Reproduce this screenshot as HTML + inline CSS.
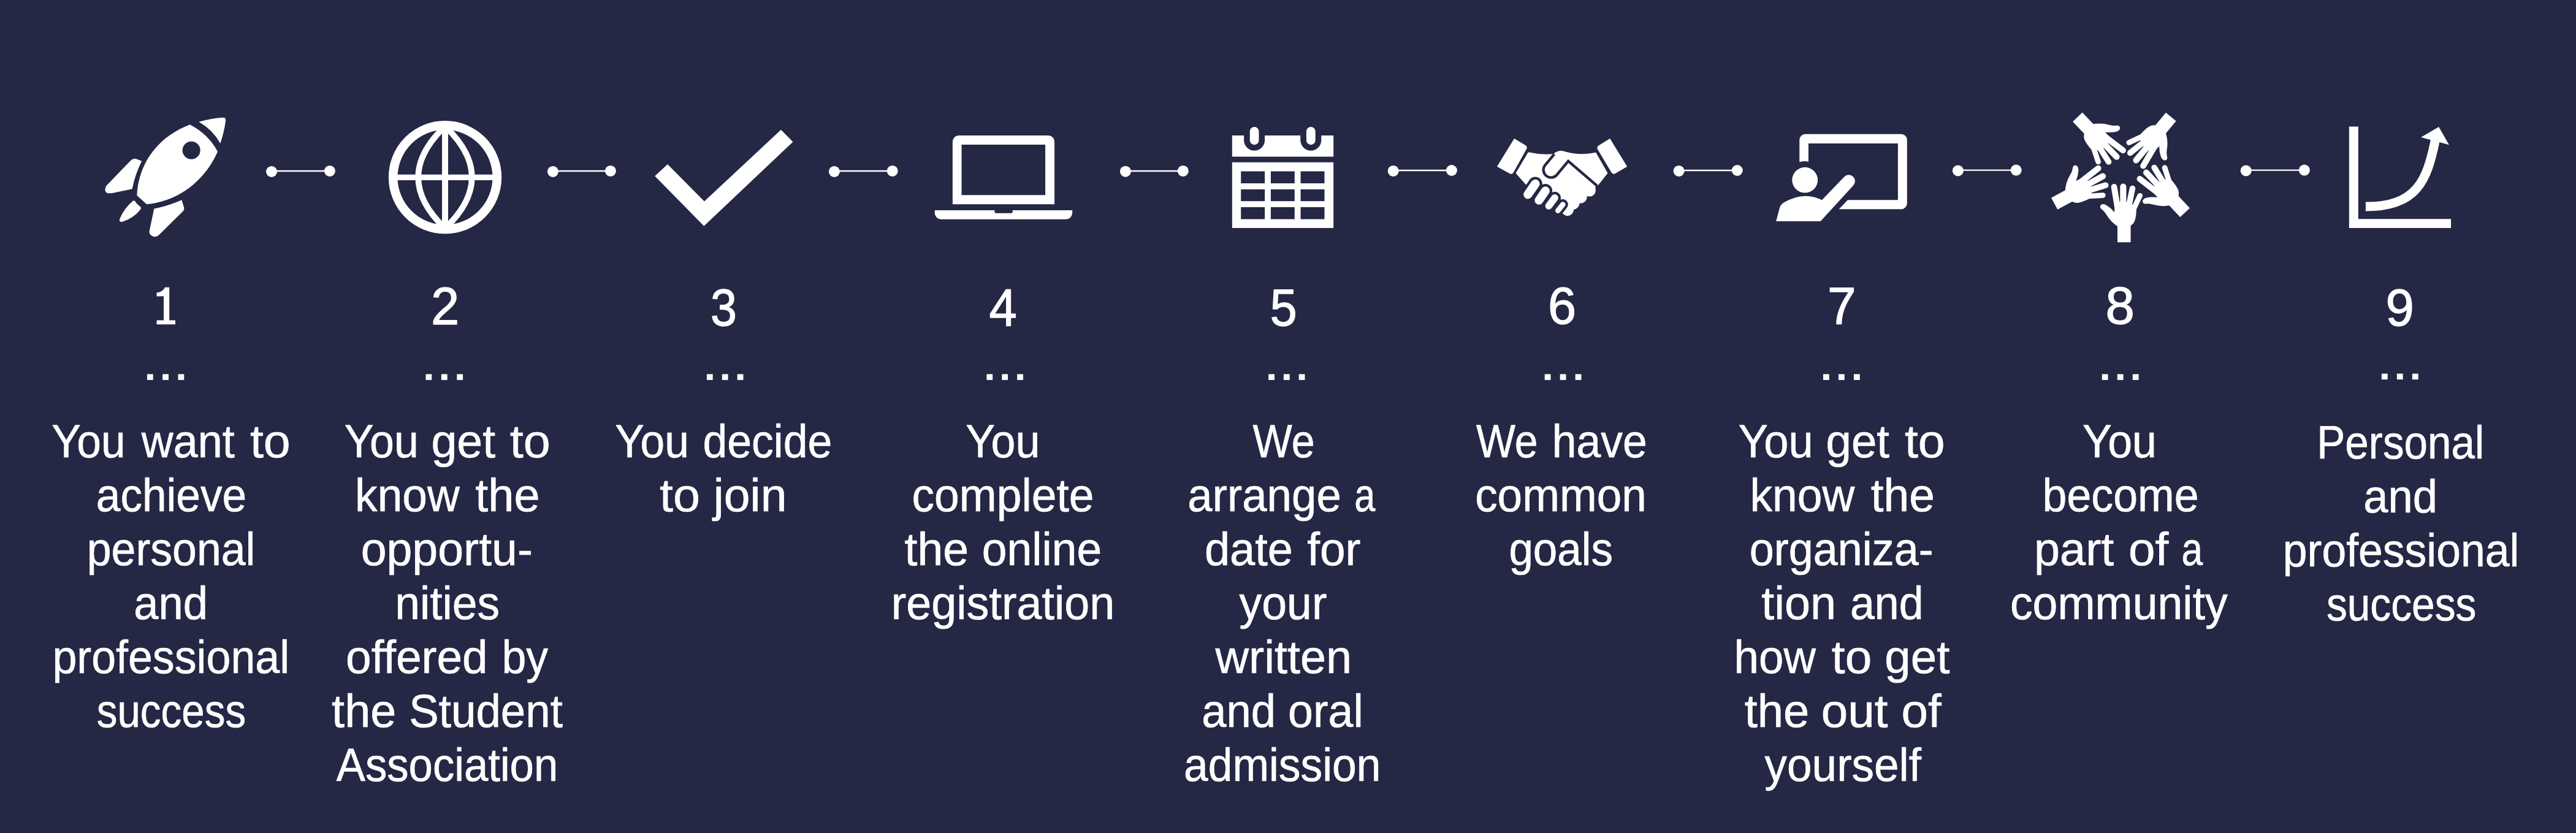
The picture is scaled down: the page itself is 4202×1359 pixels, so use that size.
<!DOCTYPE html>
<html><head><meta charset="utf-8"><title>Journey</title>
<style>
html,body{margin:0;padding:0;background:#242844;}
body{width:4202px;height:1359px;overflow:hidden;}
svg.root{position:absolute;left:0;top:0;display:block;}
text{font-family:"Liberation Sans",sans-serif;fill:#fff;}
</style></head><body>
<svg class="root" width="4202" height="1359" viewBox="0 0 4202 1359" fill="#fff">
<rect width="4202" height="1359" fill="#242844"/>
<g id="connectors">
<line x1="443.0" y1="279.0" x2="537.9" y2="279.0" stroke="#fff" stroke-width="2.45"/><circle cx="443.0" cy="280.0" r="9"/><circle cx="537.9" cy="279.0" r="9"/>
<line x1="901.9" y1="278.9" x2="995.9" y2="278.9" stroke="#fff" stroke-width="2.45"/><circle cx="901.9" cy="279.9" r="9"/><circle cx="995.9" cy="278.9" r="9"/>
<line x1="1360.9" y1="278.9" x2="1455.7" y2="278.9" stroke="#fff" stroke-width="2.45"/><circle cx="1360.9" cy="279.9" r="9"/><circle cx="1455.7" cy="278.9" r="9"/>
<line x1="1835.9" y1="278.9" x2="1929.8" y2="278.9" stroke="#fff" stroke-width="2.45"/><circle cx="1835.9" cy="279.7" r="9"/><circle cx="1929.8" cy="278.9" r="9"/>
<line x1="2272.7" y1="278.0" x2="2367.9" y2="278.0" stroke="#fff" stroke-width="2.45"/><circle cx="2272.7" cy="278.9" r="9"/><circle cx="2367.9" cy="278.0" r="9"/>
<line x1="2738.6" y1="278.0" x2="2833.8" y2="278.0" stroke="#fff" stroke-width="2.45"/><circle cx="2738.6" cy="278.9" r="9"/><circle cx="2833.8" cy="278.0" r="9"/>
<line x1="3193.9" y1="277.6" x2="3288.7" y2="277.6" stroke="#fff" stroke-width="2.45"/><circle cx="3193.9" cy="278.4" r="9"/><circle cx="3288.7" cy="277.6" r="9"/>
<line x1="3663.7" y1="277.6" x2="3758.9" y2="277.6" stroke="#fff" stroke-width="2.45"/><circle cx="3663.7" cy="278.4" r="9"/><circle cx="3758.9" cy="277.6" r="9"/>
</g>
<g id="icons">
<svg x="150" y="170" width="250" height="240" viewBox="0 0 868 833" overflow="visible">
<path d="M605,100 Q680,78 745,75 Q760,76 757,95 Q748,160 727,222 Q683,144 605,100 Z"/>
<path d="M555,115 Q660,170 712,268 C660,390 530,545 310,567 L255,517 C258,400 320,205 555,115 Z"/>
<circle cx="563" cy="261" r="50.5" fill="#242844"/>
<path d="M282,322 Q245,395 228,480 L116,503 Q60,512 80,463 L218,320 Q235,303 260,313 Z"/>
<path d="M352,592 Q435,575 508,542 L520,580 Q526,595 515,607 L378,742 Q355,760 332,740 Q322,730 326,715 Z"/>
<path d="M230,549 Q238,542 245,551 Q255,568 272,579 Q282,586 274,597 Q240,642 176,665 Q151,671 157,650 Q183,588 230,549 Z"/>
</svg>
<svg x="600" y="170" width="250" height="240" viewBox="0 0 868 833" overflow="visible">
<g fill="none" stroke="#fff">
<circle cx="437.5" cy="414" r="294.5" stroke-width="51"/>
<path d="M437.5,130 V700" stroke-width="34.5"/><path d="M150,414.5 H725" stroke-width="32"/>
<path d="M437.5,124.7 Q133.5,414 437.5,703.3 M437.5,124.7 Q741.5,414 437.5,703.3" stroke-width="34"/>
</g>
</svg>
<svg x="1040" y="170" width="280" height="240" viewBox="0 0 972 833" overflow="visible"><polygon points="98,407 170,340 378,550 812,145 880,213 376,690"/></svg>
<svg x="1500" y="170" width="280" height="240" viewBox="0 0 972 833" overflow="visible">
<path fill-rule="evenodd" d="M187,567 V212 a35,35 0 0 1 35,-35 H729 a35,35 0 0 1 35,35 V567 Z M238,229 H712 V515 H238 Z"/>
<path d="M86,600.5 H425 V607 a10,10 0 0 0 10,10 H517 a10,10 0 0 0 10,-10 V600.5 H865 V616.5 a35,35 0 0 1 -35,35 H121 a35,35 0 0 1 -35,-35 Z"/>
</svg>
<svg x="1960" y="170" width="280" height="240" viewBox="0 0 972 833" overflow="visible"><rect x="173" y="177" width="574" height="120"/>
<path fill="#242844" d="M240,170 V204 a59,59 0 0 0 118,0 V170 Z"/>
<rect x="273.5" y="128.5" width="51" height="101.5" rx="25.5"/>
<path fill="#242844" d="M560,170 V204 a59,59 0 0 0 118,0 V170 Z"/>
<rect x="593.5" y="128.5" width="51" height="101.5" rx="25.5"/>
<rect x="173" y="329" width="574" height="372"/>
<rect fill="#242844" x="223" y="380" width="135" height="68"/>
<rect fill="#242844" x="223" y="482" width="135" height="67"/>
<rect fill="#242844" x="223" y="583" width="135" height="68"/>
<rect fill="#242844" x="392" y="380" width="135" height="68"/>
<rect fill="#242844" x="392" y="482" width="135" height="67"/>
<rect fill="#242844" x="392" y="583" width="135" height="68"/>
<rect fill="#242844" x="561" y="380" width="135" height="68"/>
<rect fill="#242844" x="561" y="482" width="135" height="67"/>
<rect fill="#242844" x="561" y="583" width="135" height="68"/>
</svg>
<svg x="2410" y="190" width="280" height="200" viewBox="0 0 1166 833" overflow="visible">
<path d="M250,150 L325,195 Q342,206 333,222 L245,380 Q236,396 220,388 L133,340 Z"/>
<path d="M900,150 L1017,340 L935,388 Q920,396 911,381 L817,225 Q808,209 823,198 Z"/>
<path d="M345,243 Q430,262 515,255 Q545,228 580,234 Q690,270 805,245 L885,385 L820,468 L800,480 Q812,520 780,540 Q760,548 745,540 Q745,575 715,588 Q705,590 695,588 Q690,625 655,632 Q650,670 612,677 Q595,675 580,660 L328,462 L260,385 Z"/>
<path fill="none" stroke="#242844" stroke-width="18" stroke-linejoin="miter" d="M522,256 L460,331 A50,50 0 0 0 540,396 L617,303 L814,472"/>
<g stroke="#242844" stroke-width="15">
<path d="M393,458 L343,530" stroke="#242844" stroke-width="95" stroke-linecap="round"/>
<path d="M462,505 L418,570" stroke="#242844" stroke-width="93" stroke-linecap="round"/>
<path d="M525,553 L485,608" stroke="#242844" stroke-width="83" stroke-linecap="round"/>
<path d="M580,598 L547,640" stroke="#242844" stroke-width="71" stroke-linecap="round"/>
</g>
<g stroke="#fff" stroke-linecap="round">
<path d="M393,458 L343,530" stroke-width="60"/>
<path d="M462,505 L418,570" stroke-width="58"/>
<path d="M525,553 L485,608" stroke-width="48"/>
<path d="M580,598 L547,640" stroke-width="36"/>
</g>
</svg>
<svg x="2870" y="190" width="280" height="200" viewBox="0 0 1166 833" overflow="visible">
<path d="M272,310 V160 a40,40 0 0 1 40,-40 H963 a40,40 0 0 1 40,40 V590 a40,40 0 0 1 -40,40 H540 L600,567 H941 V183 H333 V307 Q302,300 272,310 Z"/>
<circle cx="309" cy="432" r="87"/>
<path d="M113,712 L138,618 Q145,598 165,585 Q300,505 425,567 L576,410 A42,42 0 0 1 637,470 L415,712 Z"/>
</svg>
<svg x="3320" y="170" width="280" height="240" viewBox="0 0 972 833" overflow="visible"><g transform="translate(502.7,781.9) rotate(0)">
<rect x="-37.5" y="-97" width="75" height="97"/>
<path d="M-37.5,-90 Q-75,-115 -97.5,-152.5 Q-112.5,-177.5 -127.5,-187.5 Q-142.5,-200 -130,-212.5 Q-117.5,-220 -100,-210 Q-75,-195 -55,-170 L-50,-228 L35,-228 L45,-215 L70,-195 Q70,-150 60,-120 Q52.5,-102.5 37.5,-94 Z"/>
<g stroke="#fff" stroke-linecap="round" fill="none">
<path d="M-56.5,-314 L-36,-190" stroke-width="34"/>
<path d="M-5,-315 L-5,-190" stroke-width="35"/>
<path d="M47.5,-305 L24,-190" stroke-width="33"/>
<path d="M90,-264 L55,-190" stroke-width="30"/>
</g>
</g>
<g transform="translate(108.2,563.5) rotate(61.3)">
<rect x="-37.5" y="-97" width="75" height="97"/>
<path d="M-37.5,-90 Q-75,-115 -97.5,-152.5 Q-112.5,-177.5 -127.5,-187.5 Q-142.5,-200 -130,-212.5 Q-117.5,-220 -100,-210 Q-75,-195 -55,-170 L-50,-228 L35,-228 L45,-215 L70,-195 Q70,-150 60,-120 Q52.5,-102.5 37.5,-94 Z"/>
<g stroke="#fff" stroke-linecap="round" fill="none">
<path d="M-56.5,-314 L-36,-190" stroke-width="34"/>
<path d="M-5,-315 L-5,-190" stroke-width="35"/>
<path d="M47.5,-305 L24,-190" stroke-width="33"/>
<path d="M90,-264 L55,-190" stroke-width="30"/>
</g>
</g>
<g transform="translate(239.3,72.9) rotate(136.4)">
<rect x="-37.5" y="-97" width="75" height="97"/>
<path d="M-37.5,-90 Q-75,-115 -97.5,-152.5 Q-112.5,-177.5 -127.5,-187.5 Q-142.5,-200 -130,-212.5 Q-117.5,-220 -100,-210 Q-75,-195 -55,-170 L-50,-228 L35,-228 L45,-215 L70,-195 Q70,-150 60,-120 Q52.5,-102.5 37.5,-94 Z"/>
<g stroke="#fff" stroke-linecap="round" fill="none">
<path d="M-56.5,-314 L-36,-190" stroke-width="34"/>
<path d="M-5,-315 L-5,-190" stroke-width="35"/>
<path d="M47.5,-305 L24,-190" stroke-width="33"/>
<path d="M90,-264 L55,-190" stroke-width="30"/>
</g>
</g>
<g transform="translate(768.3,71.6) rotate(-140.3)">
<rect x="-37.5" y="-97" width="75" height="97"/>
<path d="M-37.5,-90 Q-75,-115 -97.5,-152.5 Q-112.5,-177.5 -127.5,-187.5 Q-142.5,-200 -130,-212.5 Q-117.5,-220 -100,-210 Q-75,-195 -55,-170 L-50,-228 L35,-228 L45,-215 L70,-195 Q70,-150 60,-120 Q52.5,-102.5 37.5,-94 Z"/>
<g stroke="#fff" stroke-linecap="round" fill="none">
<path d="M-56.5,-314 L-36,-190" stroke-width="34"/>
<path d="M-5,-315 L-5,-190" stroke-width="35"/>
<path d="M47.5,-305 L24,-190" stroke-width="33"/>
<path d="M90,-264 L55,-190" stroke-width="30"/>
</g>
</g>
<g transform="translate(847.5,614.0) rotate(-43.1)">
<rect x="-37.5" y="-97" width="75" height="97"/>
<path d="M-37.5,-90 Q-75,-115 -97.5,-152.5 Q-112.5,-177.5 -127.5,-187.5 Q-142.5,-200 -130,-212.5 Q-117.5,-220 -100,-210 Q-75,-195 -55,-170 L-50,-228 L35,-228 L45,-215 L70,-195 Q70,-150 60,-120 Q52.5,-102.5 37.5,-94 Z"/>
<g stroke="#fff" stroke-linecap="round" fill="none">
<path d="M-56.5,-314 L-36,-190" stroke-width="34"/>
<path d="M-5,-315 L-5,-190" stroke-width="35"/>
<path d="M47.5,-305 L24,-190" stroke-width="33"/>
<path d="M90,-264 L55,-190" stroke-width="30"/>
</g>
</g>
</svg>
<svg x="3780" y="170" width="280" height="240" viewBox="0 0 972 833" overflow="visible">
<path d="M180,127 H232 V650 H757 V701 H180 Z"/>
<path fill="none" stroke="#fff" stroke-width="52" d="M274,580 C564,580 621,433 668,203"/>
<polygon points="688,128 746,230 587,187"/>
</svg>
</g>
<g id="digits" font-size="84.0" stroke="#fff" stroke-width="1.3" stroke-linejoin="round">
<path stroke="none" d="M276.2,468.7 L269,468.7 Q266,476 255.6,477.4 L255.6,483.6 L267,483.2 L267,522.5 L255.6,522.5 L255.6,529.2 L286,529.2 L286,522.5 L276.2,522.5 Z"/>
<text transform="translate(703.04,528.5) scale(0.9884,1.0204)">2</text>
<text transform="translate(1159.12,531.3) scale(0.9195,1.0204)">3</text>
<text transform="translate(1613.45,531.3) scale(0.9688,1.0204)">4</text>
<text transform="translate(2071.65,531.3) scale(0.9408,1.0204)">5</text>
<text transform="translate(2524.89,527.6) scale(0.9867,1.0204)">6</text>
<text transform="translate(2981.05,527.5) scale(0.9984,1.0204)">7</text>
<text transform="translate(3434.41,528.0) scale(1.0144,1.0204)">8</text>
<text transform="translate(3891.43,531.1) scale(0.9924,1.0204)">9</text>
</g>
<g id="dots">
<rect x="239.9" y="610.4" width="9.8" height="9.5"/><rect x="265.2" y="610.4" width="9.8" height="9.5"/><rect x="290.5" y="610.4" width="9.8" height="9.5"/>
<rect x="694.5" y="610.4" width="9.8" height="9.5"/><rect x="719.9" y="610.4" width="9.8" height="9.5"/><rect x="745.3" y="610.4" width="9.8" height="9.5"/>
<rect x="1152.9" y="610.4" width="9.8" height="9.5"/><rect x="1177.8" y="610.4" width="9.8" height="9.5"/><rect x="1202.7" y="610.4" width="9.8" height="9.5"/>
<rect x="1609.4" y="610.4" width="9.8" height="9.5"/><rect x="1634.3" y="610.4" width="9.8" height="9.5"/><rect x="1659.2" y="610.4" width="9.8" height="9.5"/>
<rect x="2069.2" y="610.4" width="9.8" height="9.5"/><rect x="2093.9" y="610.4" width="9.8" height="9.5"/><rect x="2118.7" y="610.4" width="9.8" height="9.5"/>
<rect x="2519.7" y="610.4" width="9.8" height="9.5"/><rect x="2544.7" y="610.4" width="9.8" height="9.5"/><rect x="2569.7" y="610.4" width="9.8" height="9.5"/>
<rect x="2974.0" y="610.4" width="9.8" height="9.5"/><rect x="2999.0" y="610.4" width="9.8" height="9.5"/><rect x="3024.0" y="610.4" width="9.8" height="9.5"/>
<rect x="3428.8" y="610.4" width="9.8" height="9.5"/><rect x="3453.8" y="610.4" width="9.8" height="9.5"/><rect x="3478.8" y="610.4" width="9.8" height="9.5"/>
<rect x="3884.9" y="609.6" width="9.8" height="9.5"/><rect x="3909.9" y="609.6" width="9.8" height="9.5"/><rect x="3934.9" y="609.6" width="9.8" height="9.5"/>
</g>
<g id="body" font-size="76.5" stroke="#fff" stroke-width="0.7" stroke-linejoin="round">
<text transform="translate(84.16,745.7) scale(0.9339,1)">You</text>
<text transform="translate(230.75,745.7) scale(0.9408,1)">want</text>
<text transform="translate(407.90,745.7) scale(1.0323,1)">to</text>
<text transform="translate(156.80,833.8) scale(0.9306,1)">achieve</text>
<text transform="translate(141.81,921.9) scale(0.9359,1)">personal</text>
<text transform="translate(218.36,1010.0) scale(0.9459,1)">and</text>
<text transform="translate(85.40,1098.1) scale(0.9376,1)">professional</text>
<text transform="translate(157.69,1186.2) scale(0.8809,1)">success</text>
<text transform="translate(561.77,745.7) scale(0.9378,1)">You</text>
<text transform="translate(703.46,745.7) scale(0.9838,1)">get</text>
<text transform="translate(831.85,745.7) scale(1.0334,1)">to</text>
<text transform="translate(579.11,833.8) scale(0.9558,1)">know</text>
<text transform="translate(775.32,833.8) scale(0.9889,1)">the</text>
<text transform="translate(588.65,921.9) scale(0.9841,1)">opportu-</text>
<text transform="translate(644.32,1010.0) scale(0.9558,1)">nities</text>
<text transform="translate(564.08,1098.1) scale(0.9783,1)">offered</text>
<text transform="translate(818.41,1098.1) scale(0.9369,1)">by</text>
<text transform="translate(541.11,1186.2) scale(0.9892,1)">the</text>
<text transform="translate(667.35,1186.2) scale(0.9500,1)">Student</text>
<text transform="translate(548.74,1274.3) scale(0.9242,1)">Association</text>
<text transform="translate(1003.36,745.7) scale(0.9338,1)">You</text>
<text transform="translate(1146.38,745.7) scale(0.9364,1)">decide</text>
<text transform="translate(1076.08,833.8) scale(1.0334,1)">to</text>
<text transform="translate(1163.67,833.8) scale(1.0057,1)">join</text>
<text transform="translate(1575.36,745.7) scale(0.9378,1)">You</text>
<text transform="translate(1487.53,833.8) scale(0.9566,1)">complete</text>
<text transform="translate(1475.52,921.9) scale(0.9841,1)">the</text>
<text transform="translate(1601.73,921.9) scale(0.9576,1)">online</text>
<text transform="translate(1453.69,1010.0) scale(0.9635,1)">registration</text>
<text transform="translate(2043.57,745.7) scale(0.8909,1)">We</text>
<text transform="translate(1937.35,833.8) scale(0.9500,1)">arrange</text>
<text transform="translate(2209.18,833.8) scale(0.8003,1)">a</text>
<text transform="translate(1964.90,921.9) scale(0.9675,1)">date</text>
<text transform="translate(2132.14,921.9) scale(0.9783,1)">for</text>
<text transform="translate(2021.55,1010.0) scale(0.9602,1)">your</text>
<text transform="translate(1982.38,1098.1) scale(0.9883,1)">written</text>
<text transform="translate(1960.15,1186.2) scale(0.9460,1)">and</text>
<text transform="translate(2101.11,1186.2) scale(0.9625,1)">oral</text>
<text transform="translate(1931.00,1274.3) scale(0.9337,1)">admission</text>
<text transform="translate(2407.95,745.7) scale(0.8867,1)">We</text>
<text transform="translate(2531.83,745.7) scale(0.9342,1)">have</text>
<text transform="translate(2406.14,833.8) scale(0.9535,1)">common</text>
<text transform="translate(2461.40,921.9) scale(0.9276,1)">goals</text>
<text transform="translate(2835.75,745.7) scale(0.9461,1)">You</text>
<text transform="translate(2978.47,745.7) scale(0.9743,1)">get</text>
<text transform="translate(3106.90,745.7) scale(1.0323,1)">to</text>
<text transform="translate(2854.53,833.8) scale(0.9557,1)">know</text>
<text transform="translate(3051.73,833.8) scale(0.9795,1)">the</text>
<text transform="translate(2853.78,921.9) scale(0.9404,1)">organiza-</text>
<text transform="translate(2873.13,1010.0) scale(0.9880,1)">tion</text>
<text transform="translate(3017.98,1010.0) scale(0.9376,1)">and</text>
<text transform="translate(2828.55,1098.1) scale(0.9500,1)">how</text>
<text transform="translate(2987.86,1098.1) scale(1.0253,1)">to</text>
<text transform="translate(3074.21,1098.1) scale(0.9985,1)">get</text>
<text transform="translate(2845.73,1186.2) scale(0.9937,1)">the</text>
<text transform="translate(2970.71,1186.2) scale(1.0227,1)">out</text>
<text transform="translate(3101.53,1186.2) scale(1.0237,1)">of</text>
<text transform="translate(2878.55,1274.3) scale(0.9537,1)">yourself</text>
<text transform="translate(3396.97,745.7) scale(0.9378,1)">You</text>
<text transform="translate(3331.61,833.8) scale(0.9368,1)">become</text>
<text transform="translate(3317.96,921.9) scale(0.9893,1)">part</text>
<text transform="translate(3471.96,921.9) scale(1.0229,1)">of</text>
<text transform="translate(3558.38,921.9) scale(0.8129,1)">a</text>
<text transform="translate(3278.92,1010.0) scale(0.9595,1)">community</text>
<text transform="translate(3779.21,748.1) scale(0.9049,1)">Personal</text>
<text transform="translate(3855.36,836.2) scale(0.9459,1)">and</text>
<text transform="translate(3723.81,924.3) scale(0.9351,1)">professional</text>
<text transform="translate(3794.89,1012.4) scale(0.8846,1)">success</text>
</g>
</svg>
</body></html>
